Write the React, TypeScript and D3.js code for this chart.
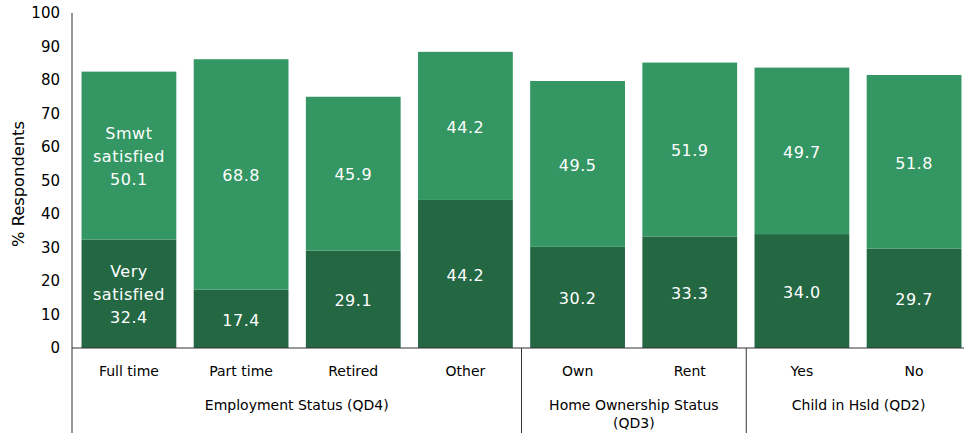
import React from "react";
import * as d3 from "d3";

const categories = ["Full time", "Part time", "Retired", "Other", "Own", "Rent", "Yes", "No"];
const verySatisfied = [32.4, 17.4, 29.1, 44.2, 30.2, 33.3, 34.0, 29.7];
const smwtSatisfied = [50.1, 68.8, 45.9, 44.2, 49.5, 51.9, 49.7, 51.8];
const groups = [
  { lines: ["Employment Status (QD4)"], start: 0, end: 4 },
  { lines: ["Home Ownership Status", "(QD3)"], start: 4, end: 6 },
  { lines: ["Child in Hsld (QD2)"], start: 6, end: 8 },
];
const yTicks = [0, 10, 20, 30, 40, 50, 60, 70, 80, 90, 100];

const W = 964, H = 435;
const left = 72, right = 971, top = 13, bottom = 348;
const FONT = "'DejaVu Sans', Verdana, sans-serif";
const LIGHT = "#339663";
const DARK = "#236743";

export default function App() {
  const x = d3.scaleBand<number>().domain(d3.range(categories.length)).range([left, right]).paddingInner(0.155).paddingOuter(0.085);
  const y = d3.scaleLinear().domain([0, 100]).range([bottom, top]);
  const boundary = (i: number) => left + (right - left) * (i / categories.length);

  return (
    <svg width={W} height={H} style={{ position: "absolute", left: 0, top: 0, fontFamily: FONT }}>
      <rect width={W} height={H} fill="#fff" />
      {categories.map((c, i) => {
        const bx = x(i)!;
        const v = verySatisfied[i], s = smwtSatisfied[i];
        const cx = bx + x.bandwidth() / 2;
        const darkMid = y(v / 2);
        const lightMid = y(v + s / 2);
        const darkLines = i === 0 ? ["Very", "satisfied", v.toFixed(1)] : [v.toFixed(1)];
        const lightLines = i === 0 ? ["Smwt", "satisfied", s.toFixed(1)] : [s.toFixed(1)];
        const lh = 23;
        return (
          <g key={c}>
            <rect x={bx} y={y(v)} width={x.bandwidth()} height={y(0) - y(v)} fill={DARK} />
            <rect x={bx} y={y(v + s)} width={x.bandwidth()} height={y(v) - y(v + s)} fill={LIGHT} />
            {darkLines.map((t, k) => (
              <text key={"d" + k} x={cx} y={darkMid + 1 + (k - (darkLines.length - 1) / 2) * lh} dy="0.36em" textAnchor="middle" fill="#fff" fontSize={16} letterSpacing={0.5}>{t}</text>
            ))}
            {lightLines.map((t, k) => (
              <text key={"l" + k} x={cx} y={lightMid + 1 + (k - (lightLines.length - 1) / 2) * lh} dy="0.36em" textAnchor="middle" fill="#fff" fontSize={16} letterSpacing={0.5}>{t}</text>
            ))}
            <text x={cx} y={371} dy="0.36em" textAnchor="middle" fontSize={14} fill="#000">{c}</text>
          </g>
        );
      })}
      {yTicks.map((t) => (
        <text key={t} x={60} y={y(t)} dy="0.36em" textAnchor="end" fontSize={15} fill="#000">{t}</text>
      ))}
      <text transform={`translate(18,184) rotate(-90)`} textAnchor="middle" dy="0.36em" fontSize={16.3} fill="#000">% Respondents</text>
      <line x1={left} x2={left} y1={top} y2={433} stroke="#333" strokeWidth={1} />
      <line x1={left} x2={W} y1={bottom} y2={bottom} stroke="#333" strokeWidth={1} />
      {[4, 6].map((i) => (
        <line key={i} x1={boundary(i)} x2={boundary(i)} y1={bottom} y2={433} stroke="#333" strokeWidth={1} />
      ))}
      {groups.map((g) => {
        const gx = (boundary(g.start) + boundary(g.end)) / 2;
        return g.lines.map((t, k) => (
          <text key={t} x={gx} y={405 + k * 18} dy="0.36em" textAnchor="middle" fontSize={14} fill="#000">{t}</text>
        ));
      })}
    </svg>
  );
}
